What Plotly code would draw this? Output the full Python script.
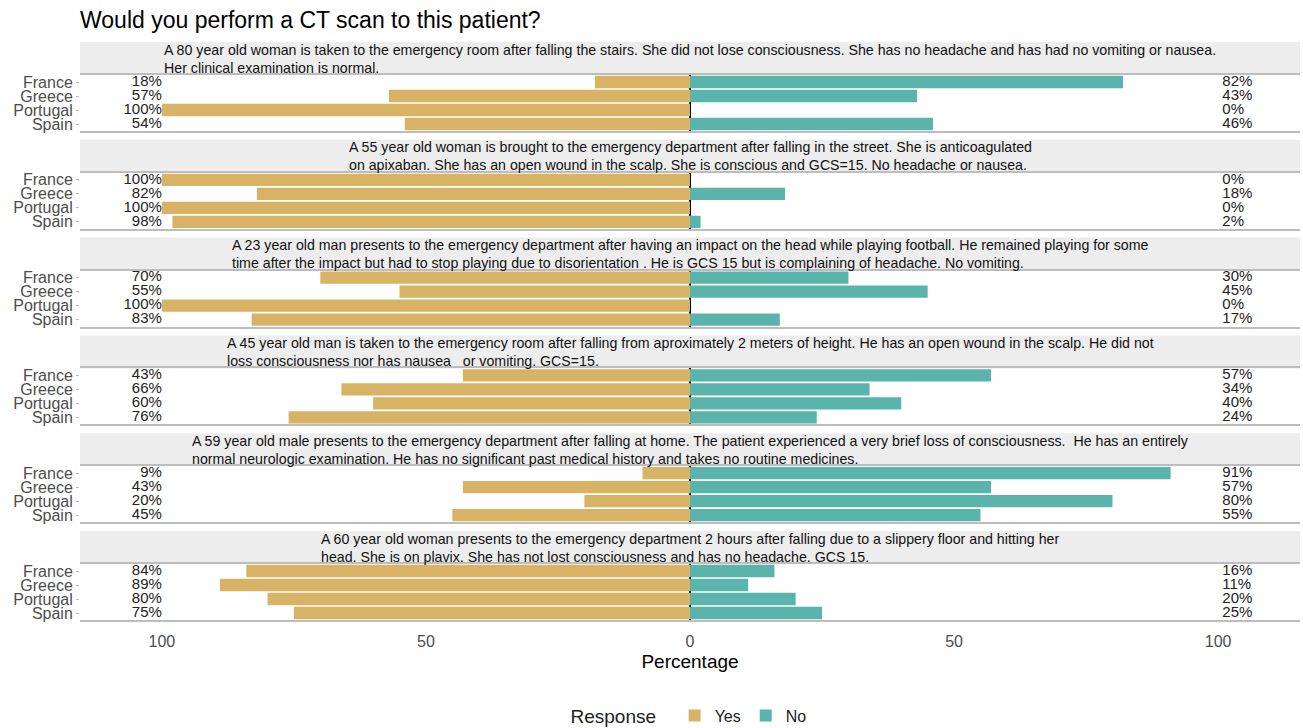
import plotly.graph_objects as go

countries = ["France", "Greece", "Portugal", "Spain"]
yes_pct = [
    [18, 57, 100, 54],
    [100, 82, 100, 98],
    [70, 55, 100, 83],
    [43, 66, 60, 76],
    [9, 43, 20, 45],
    [84, 89, 80, 75],
]
no_pct = [
    [82, 43, 0, 46],
    [0, 18, 0, 2],
    [30, 45, 0, 17],
    [57, 34, 40, 24],
    [91, 57, 80, 55],
    [16, 11, 20, 25],
]
scenarios = [
    "A 80 year old woman is taken to the emergency room after falling the stairs. She did not lose consciousness. She has no headache and has had no vomiting or nausea.<br>Her clinical examination is normal.",
    "A 55 year old woman is brought to the emergency department after falling in the street. She is anticoagulated<br>on apixaban. She has an open wound in the scalp. She is conscious and GCS=15. No headache or nausea.",
    "A 23 year old man presents to the emergency department after having an impact on the head while playing football. He remained playing for some<br>time after the impact but had to stop playing due to disorientation . He is GCS 15 but is complaining of headache. No vomiting.",
    "A 45 year old man is taken to the emergency room after falling from aproximately 2 meters of height. He has an open wound in the scalp. He did not<br>loss consciousness nor has nausea   or vomiting. GCS=15.",
    "A 59 year old male presents to the emergency department after falling at home. The patient experienced a very brief loss of consciousness.  He has an entirely<br>normal neurologic examination. He has no significant past medical history and takes no routine medicines.",
    "A 60 year old woman presents to the emergency department 2 hours after falling due to a slippery floor and hitting her<br>head. She is on plavix. She has not lost consciousness and has no headache. GCS 15.",
]
x_tick_vals = [-100, -50, 0, 50, 100]
x_tick_text = ["100", "50", "0", "50", "100"]

YES = "#D8B365"
NO = "#5AB4AC"
FONT = "Liberation Sans, Arial, sans-serif"

W, H = 1303, 728
MT, MB, ML, MR = 42, 108, 80, 3
PH = H - MT - MB


def py(y):
    return (H - MB - y) / PH


fig = go.Figure()
shapes = []
annotations = []
layout_axes = {}
for k in range(6):
    s_top = 42 + k * 97.8
    s_bot = s_top + 33
    p_bot = s_top + 89
    sfx = "" if k == 0 else str(k + 1)
    xa, ya = "x" + sfx, "y" + sfx
    fig.add_trace(go.Bar(
        y=countries, x=[-v for v in yes_pct[k]], orientation="h",
        marker=dict(color=YES, line=dict(width=0)),
        name="Yes", legendgroup="Yes", showlegend=(k == 0),
        xaxis=xa, yaxis=ya,
    ))
    fig.add_trace(go.Bar(
        y=countries, x=no_pct[k], orientation="h",
        marker=dict(color=NO, line=dict(width=0)),
        name="No", legendgroup="No", showlegend=(k == 0),
        xaxis=xa, yaxis=ya,
    ))
    fig.add_trace(go.Scatter(
        y=countries, x=[-100] * 4, mode="text",
        text=[f"{v}%" for v in yes_pct[k]], textposition="middle left",
        textfont=dict(size=15, color="#222222", family=FONT),
        showlegend=False, hoverinfo="skip", xaxis=xa, yaxis=ya, cliponaxis=False,
    ))
    fig.add_trace(go.Scatter(
        y=countries, x=[100] * 4, mode="text",
        text=[f" {v}%" for v in no_pct[k]], textposition="middle right",
        textfont=dict(size=15, color="#222222", family=FONT),
        showlegend=False, hoverinfo="skip", xaxis=xa, yaxis=ya, cliponaxis=False,
    ))
    last = (k == 5)
    xdict = dict(
        range=[-115.5, 115.5], anchor=ya, domain=[0, 1], automargin=False,
        tickmode="array", tickvals=x_tick_vals, ticktext=x_tick_text, showticklabels=last,
        tickfont=dict(size=16, color="#4d4d4d", family=FONT),
        ticks="outside", ticklen=6, tickcolor="rgba(0,0,0,0)",
        showgrid=True, gridcolor="white", zeroline=True,
        zerolinecolor="black", zerolinewidth=1.5,
        showline=True, mirror=True, linecolor="#bdbdbd", linewidth=2,
        fixedrange=True,
    )
    if last:
        xdict["title"] = dict(text="Percentage", font=dict(size=19, color="black", family=FONT), standoff=5)
    if k > 0:
        xdict["matches"] = "x"
    layout_axes["xaxis" + sfx] = xdict
    layout_axes["yaxis" + sfx] = dict(
        domain=[py(p_bot), py(s_bot)], anchor=xa, automargin=False,
        categoryorder="array", categoryarray=countries, range=[3.5, -0.5],
        tickmode="array", tickvals=countries, ticktext=countries,
        tickfont=dict(size=16, color="#4d4d4d", family=FONT),
        ticks="outside", ticklen=3, tickcolor="#bdbdbd", showgrid=False,
        fixedrange=True,
    )
    shapes.append(dict(
        type="rect", xref="paper", yref="paper", x0=0, x1=1,
        y0=py(s_bot), y1=py(s_top), fillcolor="#ededed", line=dict(width=0),
        layer="below",
    ))
    annotations.append(dict(
        text=scenarios[k], xref="paper", yref="paper", x=0.5,
        y=py((s_top + s_bot) / 2), xanchor="center", yanchor="middle",
        align="left", showarrow=False,
        font=dict(size=14.2, color="#111111", family=FONT),
    ))

fig.update_layout(
    width=W, height=H,
    margin=dict(l=ML, r=MR, t=MT, b=MB, autoexpand=False),
    paper_bgcolor="white", plot_bgcolor="white",
    barmode="relative", bargap=0.12,
    font=dict(family=FONT),
    title=dict(text="Would you perform a CT scan to this patient?", x=ML / W, xanchor="left",
               y=(H - 20) / H, yanchor="middle", font=dict(size=23, color="black", family=FONT)),
    shapes=shapes, annotations=annotations,
    legend=dict(orientation="h", x=0.5, xanchor="center", y=py(716), yanchor="middle",
                title=dict(text="Response  ", font=dict(size=19, color="#222222", family=FONT)),
                font=dict(size=16, color="#222222", family=FONT), itemwidth=30),
    **layout_axes,
)

fig.write_html(
    "out.html",
    config={"displayModeBar": False},
    post_script="document.body.style.margin='0';document.body.style.overflow='hidden';",
)
